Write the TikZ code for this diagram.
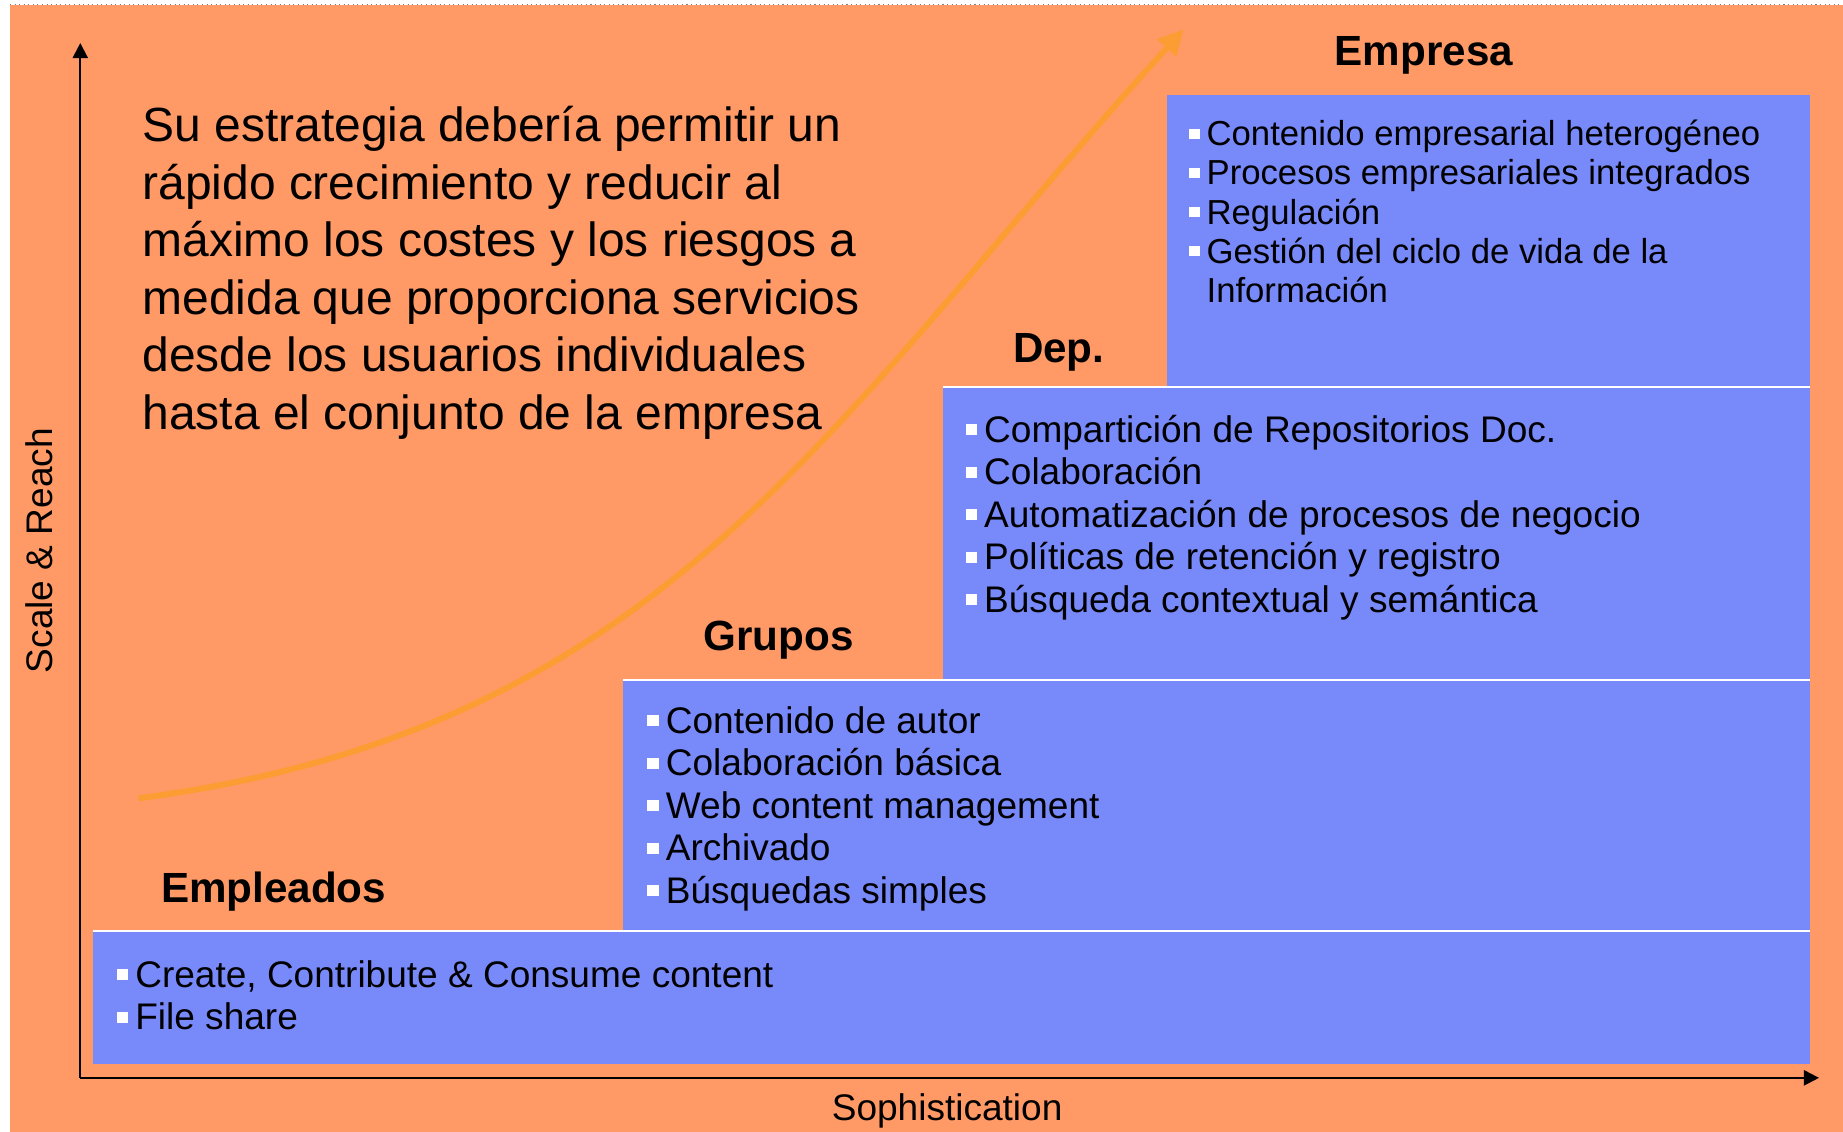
\documentclass[tikz,border=0pt]{standalone}
\usepackage{fontspec}
\setmainfont{Liberation Sans}
\usetikzlibrary{arrows.meta}
\definecolor{fondo}{RGB}{255,153,102}
\definecolor{caja}{RGB}{120,137,250}
\definecolor{curva}{RGB}{251,157,51}
\newcommand{\blt}{\textcolor{white}{\rule[0.19em]{0.3em}{0.3em}}\hspace{0.2em}}

\begin{document}
\begin{tikzpicture}[x=0.011754cm,y=-0.011754cm,
        nivel/.style={font=\fontsize{12}{14}\selectfont\bfseries,inner sep=0,anchor=base},
        lista/.style={font=\fontsize{10.53}{12.1}\selectfont,align=left,inner sep=0,anchor=base west},
        rotulo/.style={font=\fontsize{10.53}{12.1}\selectfont,inner sep=0,anchor=base},
        eje/.style={line width=0.6pt,-{Triangle[width=4.3pt,length=4.3pt]}},
        borde/.style={white,line width=0.57pt}]
        \useasboundingbox (0,0) rectangle (1568,963);
        \fill [white] (0,0) rectangle (1568,963);
        \fill [fondo] (8.5,4.3) rectangle (1568,963);
        \draw [gray,line width=0.3pt,densely dotted] (8.5,3.6) -- (1568,3.6);

        \fill [caja] (79,792.4) rectangle (1539.5,905);
        \fill [caja] (529.8,578.5) rectangle (1539.5,792.4);
        \fill [caja] (802.5,329.5) rectangle (1539.5,578.5);
        \fill [caja] (992.6,80.8) rectangle (1539.5,329.5);
        \draw [borde] (79,792.4) -- (1539.5,792.4);
        \draw [borde] (529.8,578.5) -- (1539.5,578.5);
        \draw [borde] (802.5,329.5) -- (1539.5,329.5);

        \coordinate (o) at (68.3,917);
        \coordinate (ytop) at (68.3,36.6);
        \coordinate (xend) at (1547.6,917);
        \draw [eje] (o) -- (ytop);
        \draw [eje] (o) -- (xend);
        \node [rotulo,rotate=90] (escala) at (44.5,468.5) {Scale \& Reach};
        \node [rotulo] (soph) at (805.8,952.9) {Sophistication};

        \coordinate (ini) at (117.7,679.2);
        \coordinate (fin) at (1007,25);
        \draw [line width=1.7pt,curva,-{Triangle[width=7pt,length=7.2pt]}] (ini) .. controls (567.7,620) and (707,355) .. (fin);

        \node [font=\fontsize{13.64}{16.39}\selectfont,align=left,inner sep=0,anchor=base west] (texto) at (120.6,365.5)
            {Su estrategia debería permitir un\\rápido crecimiento y reducir al\\máximo los costes y los riesgos a\\medida que proporciona servicios\\desde los usuarios individuales\\hasta el conjunto de la empresa};

        \node [nivel] (empresa) at (1211.4,55.3) {Empresa};
        \node [nivel] (dep) at (900.8,308.3) {Dep.};
        \node [nivel] (grupos) at (662.5,553.6) {Grupos};
        \node [nivel] (empleados) at (232.8,767.7) {Empleados};

        \node [lista,font=\fontsize{9.87}{11.1}\selectfont] (lemp) at (1011.2,257)
            {\blt Contenido empresarial heterogéneo\\\blt Procesos empresariales integrados\\\blt Regulación\\\blt Gestión del ciclo de vida de la\\\hphantom{\blt}Información};
        \node [lista] (ldep) at (821,521.1)
            {\blt Compartición de Repositorios Doc.\\\blt Colaboración\\\blt Automatización de procesos de negocio\\\blt Políticas de retención y registro\\\blt Búsqueda contextual y semántica};
        \node [lista] (lgru) at (550.2,768.7)
            {\blt Contenido de autor\\\blt Colaboración básica\\\blt Web content management\\\blt Archivado\\\blt Búsquedas simples};
        \node [lista] (lempl) at (98.8,876.2)
            {\blt Create, Contribute \& Consume content\\\blt File share};
    \end{tikzpicture}
\end{document}
